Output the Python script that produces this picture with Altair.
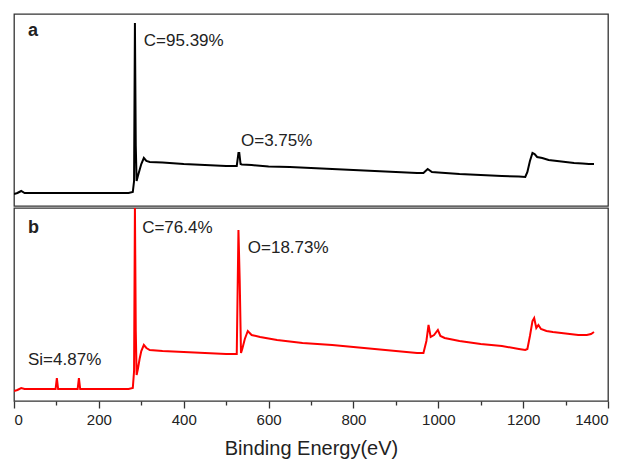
import altair as alt
import pandas as pd

# Panel a (black) spectrum: binding energy (eV) and intensity (a.u.)
a_energy = [0, 8, 17, 25, 50, 100, 150, 200, 250, 270, 280, 283, 285, 287, 289, 292, 296, 300, 306,
            312, 320, 350, 400, 450, 500, 525, 529, 531, 534, 537, 560, 600, 650, 700, 750, 800,
            850, 900, 950, 965, 975, 985, 1000, 1050, 1100, 1150, 1190, 1205, 1210, 1216, 1222,
            1227, 1233, 1245, 1260, 1280, 1300, 1320, 1340, 1355, 1367]
a_intensity = [12, 13, 15, 13, 13, 13, 13, 13, 13, 13, 14, 25, 183, 60, 25, 30, 36, 42, 48,
               45, 44, 43.5, 42, 41, 40, 40, 53, 53, 42, 41.5, 41, 39.5, 39, 38, 37, 36,
               35, 34, 33, 33, 37, 34, 33.5, 32, 31, 30, 29.5, 29, 34, 45, 53,
               52, 49, 48, 46, 45, 44, 43, 42.5, 42, 42]

# Panel b (red) spectrum
b_energy = [0, 8, 17, 25, 50, 90, 98, 101, 104, 110, 140, 150, 153, 156, 165, 200, 250, 270, 280,
            283, 285, 287, 289, 292, 296, 300, 306, 312, 320, 350, 400, 450, 500, 525, 529, 532,
            535, 538, 544, 551, 560, 580, 620, 680, 750, 800, 850, 900, 950, 965, 972, 977, 982,
            990, 999, 1005, 1015, 1050, 1100, 1150, 1190, 1205, 1210, 1216, 1222, 1226, 1231,
            1236, 1242, 1255, 1270, 1290, 1310, 1330, 1350, 1360, 1367]
b_intensity = [10, 11, 13, 12, 12, 12, 12, 23, 12, 12, 12, 12, 23, 12, 12, 12, 12, 12, 13,
               30, 195, 70, 26, 32, 42, 50, 56, 53, 51, 50, 49, 48, 47, 47, 171, 120,
               48, 52, 62, 70, 66, 64, 61, 58, 56, 54, 52, 50, 48, 48, 60, 76, 64,
               66, 71, 65, 63, 60, 57, 55, 52, 51, 52, 65, 80, 83, 73,
               76, 72, 70, 69, 68, 67, 66, 66, 67, 69]

# Annotations
a_lbl_x = [33, 306, 535]
a_lbl_y = [175, 165, 65]
a_lbl_t = ["a", "C=95.39%", "O=3.75%"]
a_lbl_w = ["bold", "normal", "normal"]

b_lbl_x = [33, 302, 551, 33]
b_lbl_y = [173, 173, 153, 41]
b_lbl_t = ["b", "C=76.4%", "O=18.73%", "Si=4.87%"]
b_lbl_w = ["bold", "normal", "normal", "normal"]

x_ticks = [0, 100, 200, 300, 400, 500, 600, 700, 800, 900, 1000, 1100, 1200, 1300, 1400]

FONT = "Liberation Sans"
W = 594

da = pd.DataFrame({"e": a_energy, "i": a_intensity})
db = pd.DataFrame({"e": b_energy, "i": b_intensity})
la = pd.DataFrame({"e": a_lbl_x, "i": a_lbl_y, "t": a_lbl_t, "w": a_lbl_w})
lb = pd.DataFrame({"e": b_lbl_x, "i": b_lbl_y, "t": b_lbl_t, "w": b_lbl_w})

xs = alt.Scale(domain=[0, 1400], nice=False, zero=False)

def panel(df, lbl, color, height, ymax, show_axis):
    if show_axis:
        xaxis = alt.Axis(values=x_ticks, title="Binding Energy(eV)",
                         labelExpr="datum.value % 200 === 0 ? datum.label : ''",
                         format="d", grid=False, domain=False,
                         tickColor="#333", tickWidth=1.3,
                         tickSize={"condition": {"test": "datum.value % 200 === 0", "value": 7}, "value": 4},
                         labelFont=FONT, labelFontSize=15, labelColor="#222", labelPadding=4,
                         titleFont=FONT, titleFontSize=20, titleFontWeight="normal",
                         titleColor="#222", titlePadding=11)
    else:
        xaxis = None
    ys = alt.Scale(domain=[0, ymax], nice=False, zero=True)
    line = alt.Chart(df).mark_line(color=color, strokeWidth=2, clip=True).encode(
        x=alt.X("e:Q", scale=xs, axis=xaxis),
        y=alt.Y("i:Q", scale=ys, axis=None),
    )
    layers = [line]
    for wt, fs in [("bold", 18), ("normal", 17)]:
        layers.append(
            alt.Chart(lbl).transform_filter(alt.datum.w == wt).mark_text(
                align="left", baseline="middle", font=FONT, fontSize=fs,
                fontWeight=wt, color="#222").encode(
                x=alt.X("e:Q", scale=xs, axis=xaxis),
                y=alt.Y("i:Q", scale=ys, axis=None),
                text="t:N",
            )
        )
    return alt.layer(*layers).properties(width=W, height=height)

top = panel(da, la, "black", 192, 192, False)
bottom = panel(db, lb, "#ff0000", 193, 193, True)

chart = alt.vconcat(top, bottom, spacing=0).properties(
    padding={"left": 4, "top": 5, "right": 5, "bottom": 5}
).configure_view(stroke="#333", strokeWidth=1.3).configure_concat(spacing=0)

chart.save("out.html", embed_options={"renderer": "svg", "actions": False})
